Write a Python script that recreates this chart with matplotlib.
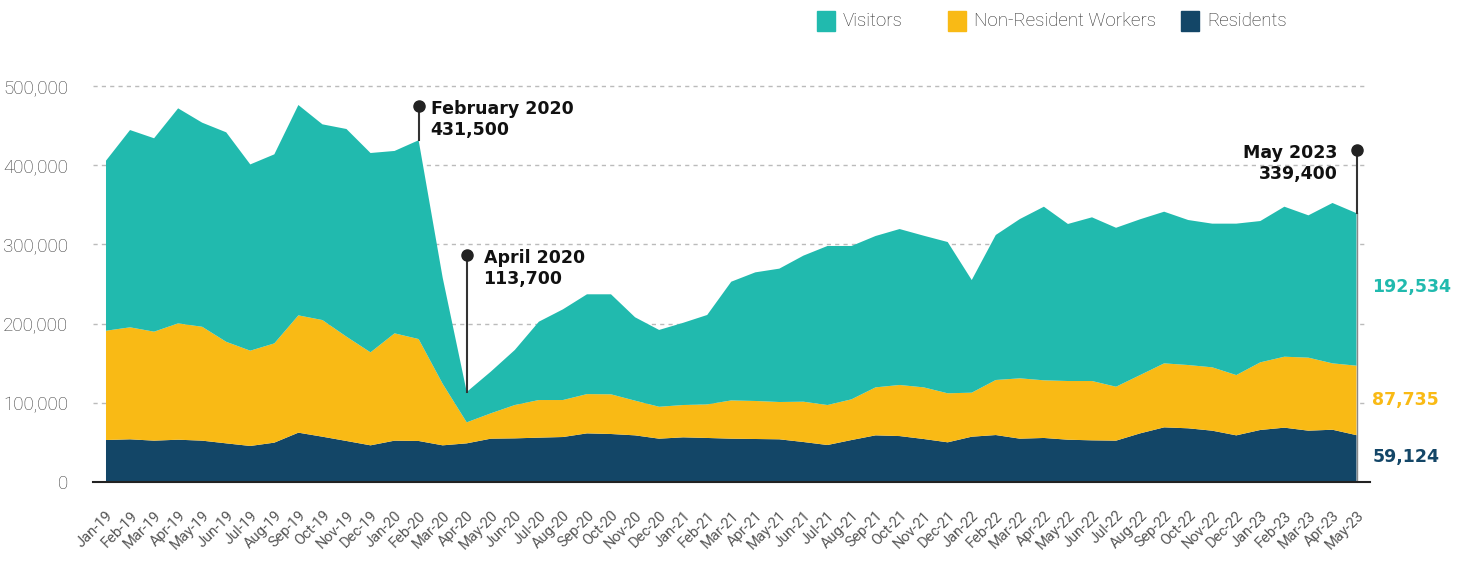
import matplotlib.pyplot as plt
from matplotlib.patches import Rectangle

months = ['Jan-19', 'Feb-19', 'Mar-19', 'Apr-19', 'May-19', 'Jun-19', 'Jul-19', 'Aug-19',
          'Sep-19', 'Oct-19', 'Nov-19', 'Dec-19', 'Jan-20', 'Feb-20', 'Mar-20', 'Apr-20',
          'May-20', 'Jun-20', 'Jul-20', 'Aug-20', 'Sep-20', 'Oct-20', 'Nov-20', 'Dec-20',
          'Jan-21', 'Feb-21', 'Mar-21', 'Apr-21', 'May-21', 'Jun-21', 'Jul-21', 'Aug-21',
          'Sep-21', 'Oct-21', 'Nov-21', 'Dec-21', 'Jan-22', 'Feb-22', 'Mar-22', 'Apr-22',
          'May-22', 'Jun-22', 'Jul-22', 'Aug-22', 'Sep-22', 'Oct-22', 'Nov-22', 'Dec-22',
          'Jan-23', 'Feb-23', 'Mar-23', 'Apr-23', 'May-23']

residents = [53000, 53900, 52200, 53400, 52200, 48800, 45500, 49700, 62300, 57200, 51800, 46300,
             52200, 51800, 46300, 48800, 54700, 55100, 56000, 56800, 61400, 60600, 58900, 54700,
             56400, 55600, 54700, 54300, 53900, 50500, 46700, 53000, 58900, 58000, 54300, 50100,
             57200, 59300, 54700, 55600, 53400, 52600, 52200, 61400, 69000, 67800, 64800, 58900,
             65700, 68600, 64800, 66000, 59124]

non_resident_workers = [138000, 141400, 137600, 146900, 143800, 128200, 120300, 125300, 148100,
                        147300, 131700, 117400, 135500, 128700, 77700, 26500, 32000, 42100,
                        47500, 46700, 49600, 50100, 43800, 40300, 40800, 42400, 48300, 48000,
                        47100, 50900, 50500, 51400, 60600, 64500, 65200, 61900, 55600, 69500,
                        76200, 72800, 74100, 74900, 68100, 73600, 80800, 79900, 80000, 76100,
                        85400, 89600, 92200, 83800, 87735]

visitors = [214700, 249100, 244200, 271500, 257700, 264500, 235200, 238700, 265600, 247100,
            262200, 251700, 230300, 251000, 134000, 38400, 52600, 69500, 98900, 114500,
            126000, 126300, 105300, 97000, 103800, 112900, 149900, 162400, 168400, 184400,
            200800, 193600, 191100, 196900, 191500, 191000, 142200, 183100, 201100, 219200,
            198300, 206700, 200700, 196700, 191500, 183100, 181400, 191200, 178400, 189400,
            179700, 202500, 192534]

series_names = ['Visitors', 'Non-Resident Workers', 'Residents']
colors = {'Visitors': '#21BAAE', 'Non-Resident Workers': '#F9BA15', 'Residents': '#134667'}

# callouts: (month index, label, value text)
callouts = [(13, 'February 2020', '431,500'), (15, 'April 2020', '113,700'), (52, 'May 2023', '339,400')]

light = {'family': 'Roboto', 'weight': 'light'}
regular = {'family': 'Roboto', 'weight': 'normal'}
bold = {'family': 'DejaVu Sans', 'weight': 'bold'}

x = list(range(len(months)))
totals = [r + n + v for r, n, v in zip(residents, non_resident_workers, visitors)]

fig = plt.figure(figsize=(14.63, 5.65), dpi=100)
ax = fig.add_axes([93 / 1463, 83 / 565, 1277 / 1463, 396 / 565])

ax.stackplot(x, residents, non_resident_workers, visitors,
             colors=[colors['Residents'], colors['Non-Resident Workers'], colors['Visitors']],
             linewidth=0, zorder=2)

ax.set_xlim(-0.54, 52.56)
ax.set_ylim(0, 500000)
ax.set_yticks(range(0, 500001, 100000))
ax.set_yticklabels([f'{v:,}' for v in range(0, 500001, 100000)], fontdict=light,
                   fontsize=13.5, color='#3a3a3a')
for v in range(100000, 500001, 100000):
    ax.plot([-0.54, 52.4], [v, v], ls=(0, (3, 3)), color='#bbbbbb', lw=1, zorder=1, clip_on=False)

ax.set_xticks(x)
ax.set_xticklabels(months, rotation=45, ha='right', rotation_mode='anchor',
                   fontdict=regular, fontsize=10.5, color='#555555')
ax.tick_params(axis='x', length=0, pad=19)
ax.tick_params(axis='y', length=0, pad=18)
for lbl in ax.get_xticklabels():
    lbl.set_x(lbl.get_position()[0])
for s in ['top', 'right', 'left']:
    ax.spines[s].set_visible(False)
ax.spines['bottom'].set_color('#222222')
ax.spines['bottom'].set_linewidth(1.5)
ax.spines['bottom'].set_zorder(3)

# thin edge at the last month
ax.plot([52, 52], [0, totals[52]], color='#888888', lw=1, zorder=3)

marker_tops = {13: 474500, 15: 286500, 52: 419000}
for i, label, val in callouts:
    top = marker_tops[i]
    ax.plot([i, i], [totals[i], top], color='#333333', lw=1.5, zorder=4, clip_on=False)
    ax.plot(i, top, 'o', color='#222222', ms=8, zorder=5, clip_on=False)
    if i == 52:
        ax.text(i - 0.8, top + 8000, f'{label}\n{val}', ha='right', va='top', fontdict=bold,
                fontsize=12.5, color='#111111', linespacing=1.2, clip_on=False)
    else:
        ax.text(i + 0.5 if i == 13 else i + 0.7, top + 8000, f'{label}\n{val}', ha='left',
                va='top', fontdict=bold, fontsize=12.5, color='#111111', linespacing=1.2,
                clip_on=False)

# end values on the right
ax.text(52.65, 246000, f'{visitors[-1]:,}', fontdict=bold, fontsize=12.5,
        color=colors['Visitors'], va='center', ha='left', clip_on=False)
ax.text(52.65, 103500, f'{non_resident_workers[-1]:,}', fontdict=bold, fontsize=12.5,
        color=colors['Non-Resident Workers'], va='center', ha='left', clip_on=False)
ax.text(52.65, 31500, f'{residents[-1]:,}', fontdict=bold, fontsize=12.5,
        color=colors['Residents'], va='center', ha='left', clip_on=False)

# legend along the top
leg_x = {'Visitors': 817, 'Non-Resident Workers': 948, 'Residents': 1181}
for name in series_names:
    px = leg_x[name]
    fig.patches.append(Rectangle((px / 1463, 1 - 31 / 565), 18 / 1463, 20 / 565,
                                 transform=fig.transFigure, color=colors[name]))
    fig.text((px + 26) / 1463, 1 - 21 / 565, name, fontdict=light, fontsize=13.5,
             color='#2a2a2a', va='center', ha='left')

plt.savefig('out.png', dpi=100)
